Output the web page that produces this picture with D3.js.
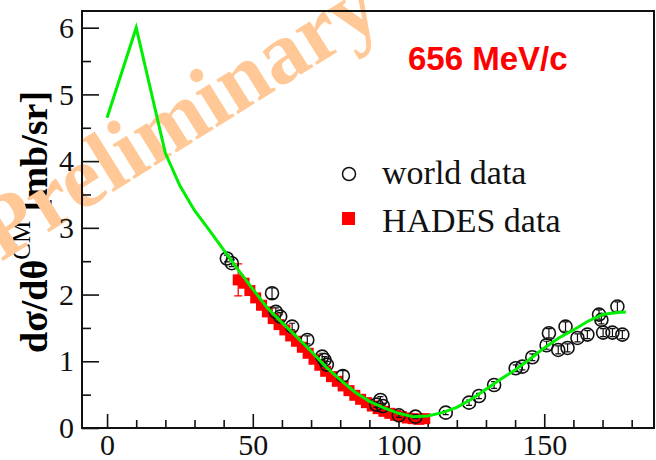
<!DOCTYPE html>
<html>
<head>
<meta charset="utf-8">
<script src="https://cdn.jsdelivr.net/npm/d3@7"></script>
<style>
  body { margin: 0; background: #fff; }
  svg { display: block; }
</style>
</head>
<body>
<script>
// model curve (green)
var curveAngle = [0, 10, 20, 25, 30, 35, 40, 45, 50, 55, 60, 65, 70, 75, 80, 85, 90, 95, 100, 105,
                  110, 115, 120, 125, 130, 135, 140, 145, 150, 155, 160, 165, 170, 175, 178];
var curveXs    = [4.65, 6.0, 4.12, 3.63, 3.26, 2.97, 2.67, 2.37, 2.08, 1.80, 1.58, 1.37, 1.15, 0.92, 0.72, 0.54, 0.40, 0.30, 0.22, 0.17,
                  0.18, 0.23, 0.31, 0.43, 0.58, 0.73, 0.87, 1.03, 1.20, 1.35, 1.47, 1.60, 1.70, 1.73, 1.74];

// world data (open circles)
var worldAngle = [41.1, 42.8, 56.6, 57.9, 59.4, 63.5, 68.7, 73.8, 74.6, 75.4, 80.9, 92.4, 93.8, 94.6, 100.1, 105.8,
                  116.2, 124.2, 127.6, 132.8, 140.2, 142.5, 145.9, 150.8, 151.6, 154.8, 157.3, 158.0, 161.4, 164.8,
                  168.8, 169.6, 170.2, 173.4, 175.1, 176.8];
var worldXs    = [2.54, 2.47, 2.02, 1.74, 1.67, 1.52, 1.32, 1.07, 1.02, 0.95, 0.78, 0.35, 0.42, 0.33, 0.19, 0.17,
                  0.23, 0.38, 0.48, 0.645, 0.895, 0.92, 1.06, 1.24, 1.42, 1.17, 1.52, 1.20, 1.35, 1.40,
                  1.70, 1.62, 1.43, 1.43, 1.82, 1.40];
var worldErr   = [0.05, 0.05, 0.08, 0.06, 0.06, 0.05, 0.06, 0.05, 0.05, 0.05, 0.08, 0.04, 0.05, 0.04, 0.03, 0.03,
                  0.03, 0.04, 0.04, 0.05, 0.05, 0.05, 0.05, 0.06, 0.07, 0.06, 0.07, 0.06, 0.06, 0.06,
                  0.07, 0.06, 0.06, 0.06, 0.07, 0.06];

// HADES data (red squares)
var hadesAngle = [45, 47, 49, 51, 53, 55, 57, 59, 61, 63, 65, 67, 69, 71, 73, 75, 77, 79, 81, 83,
                  85, 87, 89, 91, 93, 95, 97, 99, 101, 103, 105, 107, 109];
var hadesXs    = [2.22, 2.17, 2.06, 1.95, 1.84, 1.74, 1.64, 1.55, 1.47, 1.38, 1.30, 1.21, 1.12, 1.03, 0.94, 0.85, 0.77, 0.70, 0.63, 0.56,
                  0.49, 0.43, 0.38, 0.33, 0.29, 0.25, 0.22, 0.19, 0.17, 0.15, 0.14, 0.13, 0.14];
var hadesErr   = [0.24, 0.04, 0.04, 0.04, 0.04, 0.03, 0.03, 0.03, 0.03, 0.03, 0.03, 0.03, 0.03, 0.03, 0.03, 0.03, 0.03, 0.03, 0.03, 0.03,
                  0.03, 0.03, 0.03, 0.03, 0.03, 0.03, 0.03, 0.03, 0.03, 0.03, 0.03, 0.03, 0.03];

var xMajor = [0, 50, 100, 150];
var xMinor = [10, 20, 30, 40, 60, 70, 80, 90, 110, 120, 130, 140, 160, 170, 180];
var yMajor = [0, 1, 2, 3, 4, 5, 6];
var yMinor = [0.5, 1.5, 2.5, 3.5, 4.5, 5.5];

var width = 656, height = 460;
var margin = {top: 11, right: 1, bottom: 32, left: 82};
var serif = "'Liberation Serif', 'Times New Roman', serif";

var svg = d3.select("body").append("svg")
    .attr("width", width)
    .attr("height", height);

var x = d3.scaleLinear().domain([-8.6, 188]).range([margin.left, width - margin.right]);
var y = d3.scaleLinear().domain([0, 6.25]).range([height - margin.bottom, margin.top]);

// y title
var ytitle = svg.append("text")
    .attr("transform", "translate(47,353) rotate(-90)")
    .style("font-family", serif)
    .style("font-weight", "bold")
    .style("font-size", "38px")
    .attr("fill", "#000");
ytitle.append("tspan").text("dσ/dθ");
ytitle.append("tspan").attr("dy", -17).style("font-size", "25px").style("font-weight", "normal").text("CM");
ytitle.append("tspan").attr("dy", 17).text(" [mb/sr]");

// watermark
svg.append("text")
    .attr("transform", "translate(1,262) rotate(-32)")
    .style("font-family", serif)
    .style("font-weight", "bold")
    .style("font-size", "88px")
    .attr("fill", "#ffc896")
    .text("Preliminary");

// axes
var yAxis = svg.append("g")
    .attr("transform", "translate(" + margin.left + ",0)")
    .call(d3.axisLeft(y).tickValues(yMajor).tickSize(-17).tickPadding(8).tickFormat(d3.format("d")));
svg.append("g")
    .attr("transform", "translate(" + margin.left + ",0)")
    .call(d3.axisLeft(y).tickValues(yMinor).tickSize(-9).tickFormat(""));

var xAxis = svg.append("g")
    .attr("transform", "translate(0," + (height - margin.bottom) + ")")
    .call(d3.axisBottom(x).tickValues(xMajor).tickSize(-14).tickPadding(8).tickFormat(d3.format("d")));
svg.append("g")
    .attr("transform", "translate(0," + (height - margin.bottom) + ")")
    .call(d3.axisBottom(x).tickValues(xMinor).tickSize(-8).tickFormat(""));

svg.selectAll(".domain").remove();
svg.selectAll(".tick line").attr("stroke", "#111").attr("stroke-width", 1.6);
svg.selectAll(".tick text")
    .style("font-family", serif)
    .style("font-size", "30px")
    .attr("fill", "#111");
xAxis.selectAll(".tick text").attr("dy", "0.62em");

// frame
svg.append("rect")
    .attr("x", margin.left)
    .attr("y", margin.top)
    .attr("width", width - margin.left - margin.right - 1)
    .attr("height", height - margin.top - margin.bottom)
    .attr("fill", "none")
    .attr("stroke", "#111")
    .attr("stroke-width", 2);

// HADES points
var hades = hadesAngle.map(function(a, i){ return {a: a, v: hadesXs[i], e: hadesErr[i]}; });
var hg = svg.append("g");
hg.selectAll("path")
    .data(hades)
  .enter().append("path")
    .attr("d", function(d){
      var cx = x(d.a), y0 = y(d.v - d.e), y1 = y(d.v + d.e);
      return "M" + cx + "," + y0 + "V" + y1 + "M" + (cx - 4) + "," + y0 + "H" + (cx + 4) + "M" + (cx - 4) + "," + y1 + "H" + (cx + 4);
    })
    .attr("stroke", "#ff0000")
    .attr("stroke-width", 1.3)
    .attr("fill", "none");
hg.selectAll("rect")
    .data(hades)
  .enter().append("rect")
    .attr("x", function(d){ return x(d.a) - 5.5; })
    .attr("y", function(d){ return y(d.v) - 5.5; })
    .attr("width", 11)
    .attr("height", 11)
    .attr("fill", "#ff0000");

// world data
var world = worldAngle.map(function(a, i){ return {a: a, v: worldXs[i], e: worldErr[i]}; });
var wg = svg.append("g");
wg.selectAll("path")
    .data(world)
  .enter().append("path")
    .attr("d", function(d){
      var cx = x(d.a), y0 = y(d.v - d.e), y1 = y(d.v + d.e);
      return "M" + cx + "," + y0 + "V" + y1 + "M" + (cx - 3) + "," + y0 + "H" + (cx + 3) + "M" + (cx - 3) + "," + y1 + "H" + (cx + 3);
    })
    .attr("stroke", "#111")
    .attr("stroke-width", 1.2)
    .attr("fill", "none");
wg.selectAll("circle")
    .data(world)
  .enter().append("circle")
    .attr("cx", function(d){ return x(d.a); })
    .attr("cy", function(d){ return y(d.v); })
    .attr("r", 6.5)
    .attr("fill", "none")
    .attr("stroke", "#111")
    .attr("stroke-width", 1.6);

// model curve
var line = d3.line()
    .x(function(d){ return x(d[0]); })
    .y(function(d){ return y(d[1]); });
svg.append("path")
    .datum(curveAngle.map(function(a, i){ return [a, curveXs[i]]; }))
    .attr("d", line)
    .attr("fill", "none")
    .attr("stroke", "#00ee00")
    .attr("stroke-width", 3);

// label
svg.append("text")
    .attr("x", 408)
    .attr("y", 70)
    .style("font-family", "'Liberation Sans', Arial, sans-serif")
    .style("font-weight", "bold")
    .style("font-size", "33px")
    .attr("fill", "#ff0000")
    .text("656 MeV/c");

// legend
var legend = svg.append("g").style("font-family", serif).style("font-size", "34px").attr("fill", "#111");
legend.append("circle")
    .attr("cx", 349).attr("cy", 174).attr("r", 6.5)
    .attr("fill", "none").attr("stroke", "#111").attr("stroke-width", 1.5);
legend.append("text").attr("x", 382).attr("y", 184).text("world data");
legend.append("rect")
    .attr("x", 342).attr("y", 212).attr("width", 13).attr("height", 13)
    .attr("fill", "#ff0000");
legend.append("text").attr("x", 382).attr("y", 232).text("HADES data");
</script>
</body>
</html>
